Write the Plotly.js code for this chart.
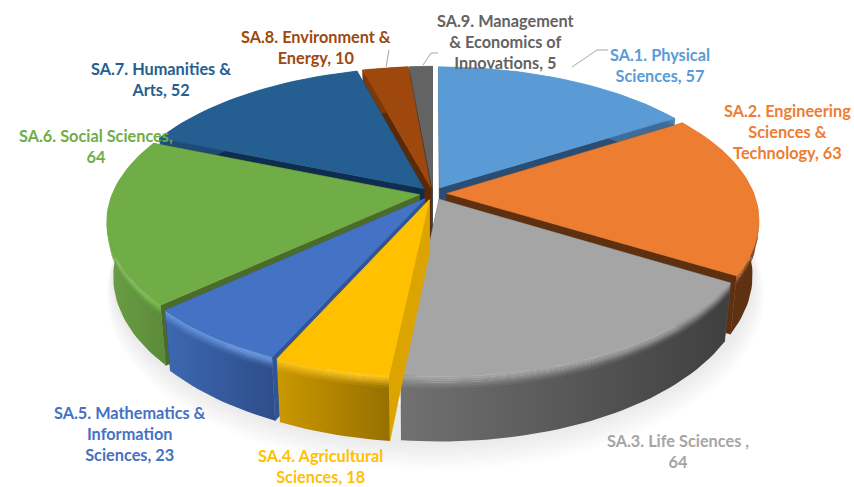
<!DOCTYPE html>
<html><head><meta charset="utf-8">
<script src="https://cdn.plot.ly/plotly-3.0.1.min.js"></script>
<style>html,body{margin:0;padding:0;background:#fff}#c{width:854px;height:487px}</style>
</head><body><div id="c"></div>
<script>
const categories=['SA.1. Physical Sciences','SA.2. Engineering Sciences & Technology','SA.3. Life Sciences','SA.4. Agricultural Sciences','SA.5. Mathematics & Information Sciences','SA.6. Social Sciences','SA.7. Humanities & Arts','SA.8. Environment & Energy','SA.9. Management & Economics of Innovations'];
const values=[57,63,64,18,23,64,52,10,5];
const labelTexts=['SA.1. Physical<br>Sciences, 57','SA.2. Engineering<br>Sciences &<br>Technology, 63','SA.3. Life Sciences ,<br>64','SA.4. Agricultural<br>Sciences, 18','SA.5. Mathematics &<br>Information<br>Sciences, 23','SA.6. Social Sciences,<br>64','SA.7. Humanities &<br>Arts, 52','SA.8. Environment &<br>Energy, 10','SA.9. Management<br>& Economics of<br>Innovations, 5'];
const labelX=[660,787,678,320,130,96,161,316,505];
const labelY=[65,131,451,466,433,146,79,47,41];
const topColors=['#5b9bd5','#ed7d31','#a5a5a5','#ffc000','#4472c4','#70ad47','#255e91','#9e480e','#636363'];
const textColors=['#5b9bd5','#ed7d31','#a5a5a5','#ffc000','#4472c4','#70ad47','#255e91','#9e480e','#636363'];
const cutColors=['#2a4d75','#5f3010','#555555','#dca400','#2f5597','#4a6b2a','#0f2d4f','#5a2a08','#404040'];
const wallLeft=['#4a7fb0','#5e3112','#717171','#cb9800','#3c68b2','#6a9e44','#1e4d78','#7a380b','#505050'];
const wallRight=['#3a6a95','#5e3112','#3f3f3f','#967000','#2e4d8a','#5c8a39','#1a4268','#7a380b','#505050'];
const rimColors=['#5b9bd5','#b56228','#a5a5a5','#ffc91f','#6c9ae2','#74bb4a','#255e91','#9e480e','#636363'];

const cx=433,cy=193.5,Rx=307,Ry=144,persp=0.175,pull=0.045,depth=53,shrink=0.02;
const rad=d=>d*Math.PI/180;
function proj(theta,r,mid,z){
  const u=r*Math.sin(rad(theta))+pull*Math.sin(rad(mid));
  const v=r*Math.cos(rad(theta))+pull*Math.cos(rad(mid));
  const s=1/(1+persp*v);
  return [cx+Rx*u*s*(1-shrink*z), cy-Ry*v*s+z*depth*s];
}
function hex(c){return [1,3,5].map(i=>parseInt(c.substr(i,2),16));}
function mix(a,b,t){const A=hex(a),B=hex(b);return 'rgb('+A.map((x,i)=>Math.round(x+(B[i]-x)*t)).join(',')+')';}
function arc(a,b,mid,z){const n=Math.max(4,Math.ceil((b-a)/1.5)),o=[];for(let i=0;i<=n;i++)o.push(proj(a+(b-a)*i/n,1,mid,z));return o;}
function poly(pts,name,style){
  const x=pts.map(p=>p[0]),y=pts.map(p=>p[1]);x.push(x[0]);y.push(y[0]);
  return Object.assign({type:'scatter',mode:'lines',x,y,name,fill:'toself',hoverinfo:'skip',showlegend:false,line:{width:0.6,color:style.edge||'rgba(0,0,0,0)'}},style.fill);
}
const total=values.reduce((a,b)=>a+b,0);
let acc=0;
const slices=values.map((val,i)=>{const a=acc/total*360;acc+=val;const b=acc/total*360;return {i,a,b,mid:(a+b)/2};});
const traces=[];
// soft shadow under the front of the pie
for(let k=10;k>=1;k--){
  const f=1+k*0.0035;
  const outer=[];for(let t=75;t<=285;t+=3){const p=proj(t,f,t,1+k*0.03);outer.push([p[0]+k*0.25,p[1]]);}
  const inner=[];for(let t=285;t>=75;t-=3){inner.push(proj(t,0.95,t,0.6));}
  traces.push(poly(outer.concat(inner),'shadow',{fill:{fillcolor:'rgba(110,110,110,0.012)'}}));
}
// painter's order: back to front
const order=slices.slice().sort((p,q)=>Math.cos(rad(q.mid))<Math.cos(rad(p.mid))?-1:1);
order.forEach(sl=>{
  const {i,a,b,mid}=sl,name=categories[i];
  [a,b].forEach(t=>{
    const pts=[proj(0,0,mid,0),proj(t,1,mid,0),proj(t,1,mid,1),proj(0,0,mid,1)];
    traces.push(poly(pts,name,{fill:{fillcolor:cutColors[i]},edge:cutColors[i]}));
  });
  const wall=arc(a,b,mid,0.1).concat(arc(a,b,mid,1).reverse());
  traces.push(poly(wall,name,{fill:{fillgradient:{type:'horizontal',colorscale:[[0,wallLeft[i]],[1,wallRight[i]]]}}}));
  const bands=6;
  for(let j=0;j<bands;j++){
    const z0=j*0.03,z1=(j+1)*0.03+0.005,t=(j+0.3)/bands;
    const band=arc(a,b,mid,z0).concat(arc(a,b,mid,z1).reverse());
    traces.push(poly(band,name,{fill:{fillgradient:{type:'horizontal',colorscale:[[0,mix(rimColors[i],wallLeft[i],t)],[1,mix(rimColors[i],wallRight[i],t)]]}}}));
  }
  const top=[proj(0,0,mid,0)].concat(arc(a,b,mid,0));
  traces.push(poly(top,name,{fill:{fillcolor:topColors[i]},edge:topColors[i]}));
});
const annotations=labelTexts.map((t,i)=>({x:labelX[i],y:labelY[i],xref:'x',yref:'y',text:t,showarrow:false,align:'center',xanchor:'center',yanchor:'middle',font:{family:'Lato',size:16.3,color:textColors[i],weight:700}}));
const leader=(x0,y0,x1,y1)=>({type:'line',xref:'x',yref:'y',x0,y0,x1,y1,line:{color:'#a6a6a6',width:1}});
const shapes=[leader(608,50,597,50),leader(597,50,572,67),leader(389,50,386,67),leader(438,53,431,53),leader(431,53,423,65)];
Plotly.newPlot('c',traces,{width:854,height:487,margin:{l:0,r:0,t:0,b:0},paper_bgcolor:'#fff',plot_bgcolor:'#fff',showlegend:false,
 xaxis:{range:[0,854],visible:false,fixedrange:true},yaxis:{range:[487,0],visible:false,fixedrange:true},annotations,shapes},{displayModeBar:false,staticPlot:true});
</script></body></html>
